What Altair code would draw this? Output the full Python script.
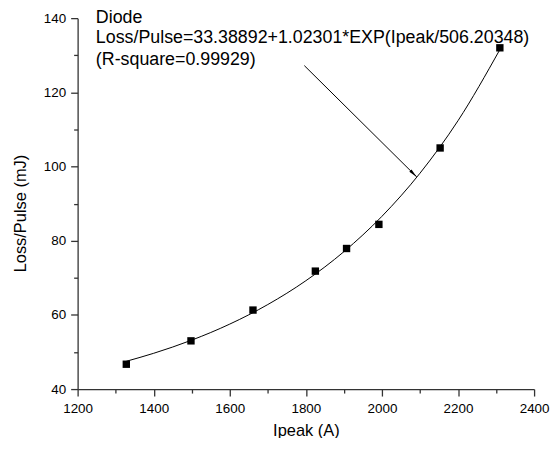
import altair as alt
import pandas as pd

# Measured points
ipeak = [1328, 1498, 1661, 1825, 1907, 1992, 2153, 2310]
loss = [46.7, 53.0, 61.3, 71.8, 77.9, 84.4, 105.0, 132.0]

# Fitted curve
fit_x = [1328, 1400, 1500, 1600, 1700, 1800, 1900, 2000, 2100, 2200, 2310]
fit_y = [47.49, 49.65, 53.20, 57.52, 62.79, 69.21, 77.04, 86.57, 98.19, 112.35, 131.51]

# Annotation text
note_lines = ["Diode",
              "Loss/Pulse=33.38892+1.02301*EXP(Ipeak/506.20348)",
              "(R-square=0.99929)"]
note_x = [1248, 1248, 1248]
note_y = [138.7, 133.2, 127.5]

# Arrow
arrow_x = [1796, 2091.5]
arrow_y = [127.2, 97.2]
head_x = [2083.2]
head_y = [98.05]

# Axis ticks
x_major = [1200, 1400, 1600, 1800, 2000, 2200, 2400]
x_minor = [1300, 1500, 1700, 1900, 2100, 2300]
y_major = [40, 60, 80, 100, 120, 140]
y_minor = [50, 70, 90, 110, 130]

FONT = "Liberation Sans"
AX = "#333333"

xs = alt.Scale(domain=[1200, 2400], nice=False, zero=False)
ys = alt.Scale(domain=[40, 140], nice=False, zero=False)

pts = pd.DataFrame({"x": ipeak, "y": loss})
fit = pd.DataFrame({"x": fit_x, "y": fit_y})
notes = pd.DataFrame({"x": note_x, "y": note_y, "t": note_lines})
arrow = pd.DataFrame({"x": arrow_x, "y": arrow_y})
head = pd.DataFrame({"x": head_x, "y": head_y})

main_x = alt.Axis(values=x_major, title="Ipeak (A)", orient="bottom", format="d",
                  grid=False, tickSize=7, labelPadding=6, titlePadding=7,
                  labelFlush=False)
main_y = alt.Axis(values=y_major, title="Loss/Pulse (mJ)", orient="left", format="d",
                  grid=False, tickSize=7, labelPadding=5, titlePadding=15,
                  labelFlush=False, titleY=196)
minor_x = alt.Axis(values=x_minor, title=None, orient="bottom", labels=False,
                   domain=False, grid=False, tickSize=4)
minor_y = alt.Axis(values=y_minor, title=None, orient="left", labels=False,
                   domain=False, grid=False, tickSize=4)

points = alt.Chart(pts).mark_square(size=55, color="black", opacity=1).encode(
    x=alt.X("x:Q", scale=xs, axis=main_x),
    y=alt.Y("y:Q", scale=ys, axis=main_y),
)

minor = alt.Chart(pts).mark_point(opacity=0).encode(
    x=alt.X("x:Q", scale=xs, axis=minor_x),
    y=alt.Y("y:Q", scale=ys, axis=minor_y),
)

curve = alt.Chart(fit).mark_line(color="black", strokeWidth=1, interpolate="monotone").encode(
    x=alt.X("x:Q", scale=xs, axis=None),
    y=alt.Y("y:Q", scale=ys, axis=None),
)

arrow_line = alt.Chart(arrow).mark_line(color="black", strokeWidth=1).encode(
    x=alt.X("x:Q", scale=xs, axis=None),
    y=alt.Y("y:Q", scale=ys, axis=None),
)

arrow_head = alt.Chart(head).mark_point(
    shape="M0,-1L0.35,1L-0.35,1Z", angle=135, size=81, filled=True,
    color="black", opacity=1
).encode(
    x=alt.X("x:Q", scale=xs, axis=None),
    y=alt.Y("y:Q", scale=ys, axis=None),
)

text = alt.Chart(notes).mark_text(
    align="left", baseline="alphabetic", font=FONT, fontSize=17.9, color="black"
).encode(
    x=alt.X("x:Q", scale=xs, axis=None),
    y=alt.Y("y:Q", scale=ys, axis=None),
    text="t:N",
)

chart = alt.layer(points, minor, curve, arrow_line, arrow_head, text).resolve_axis(
    x="independent", y="independent"
).properties(
    width=459, height=373,
    padding={"left": 70, "top": 9, "right": 16, "bottom": 48},
    autosize=alt.AutoSizeParams(type="none"),
).configure_view(stroke=None).configure_axis(
    domainColor=AX, tickColor=AX, domainWidth=1.3, tickWidth=1.3,
    labelFont=FONT, labelFontSize=13.5, labelColor="black",
    titleFont=FONT, titleFontSize=16.5, titleFontWeight="normal", titleColor="black",
)

chart.save("out.html", embed_options={"renderer": "svg", "actions": False})
